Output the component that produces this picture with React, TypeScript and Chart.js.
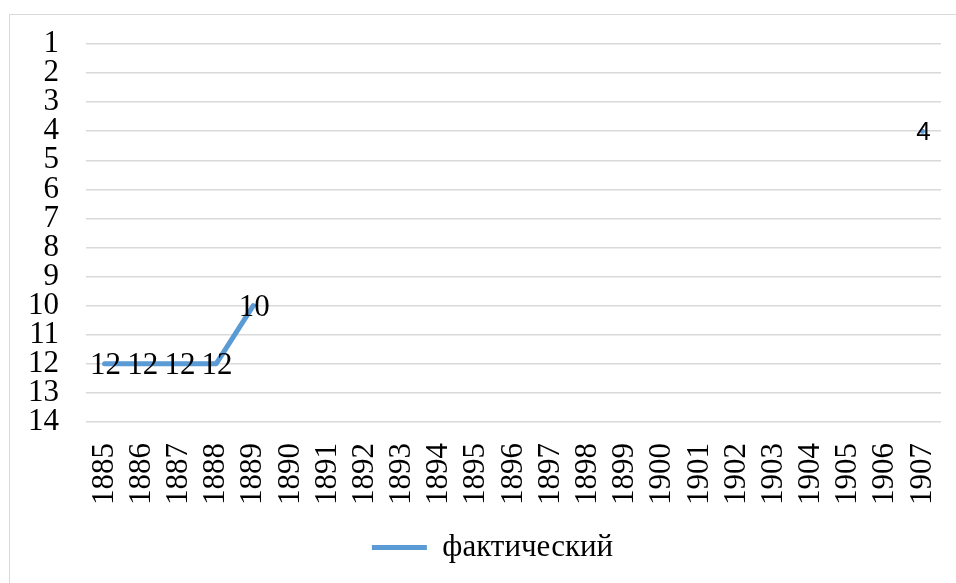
import React, { useEffect, useRef } from "react";
import { Chart, registerables } from "chart.js";

Chart.register(...registerables);

const years = [
  "1885", "1886", "1887", "1888", "1889", "1890", "1891", "1892", "1893", "1894", "1895", "1896",
  "1897", "1898", "1899", "1900", "1901", "1902", "1903", "1904", "1905", "1906", "1907",
];
const actual: (number | null)[] = [
  12, 12, 12, 12, 10, null, null, null, null, null, null, null,
  null, null, null, null, null, null, null, null, null, null, 4,
];
const seriesName = "фактический";
const yMin = 1;
const yMax = 14;
// the label of the last point is drawn in a sans font in the reference
const sansLabelIndex = [22];

const SERIF = "'Liberation Serif', 'Times New Roman', serif";
const SANS = "'Liberation Sans', Arial, sans-serif";
const FS = 31;

const framePlugin = {
  id: "frame",
  beforeDraw(chart: any) {
    const ctx = chart.ctx;
    ctx.save();
    ctx.fillStyle = "#ffffff";
    ctx.fillRect(0, 0, chart.width, chart.height);
    ctx.strokeStyle = "#d9d9d9";
    ctx.lineWidth = 1;
    ctx.strokeRect(9.5, 14.5, 1200, 1200);
    ctx.restore();
  },
  afterLayout(chart: any) {
    const lg = chart.legend;
    if (lg) {
      lg.left += 17;
      lg.right += 17;
    }
  },
};

const labelPlugin = {
  id: "valueLabels",
  afterDatasetsDraw(chart: any) {
    const ctx = chart.ctx;
    chart.data.datasets.forEach((ds: any, di: number) => {
      const meta = chart.getDatasetMeta(di);
      meta.data.forEach((pt: any, i: number) => {
        const v = ds.data[i];
        if (v === null || v === undefined) return;
        ctx.save();
        const sans = sansLabelIndex.includes(i);
        ctx.font = sans ? `26px ${SANS}` : `${FS}px ${SERIF}`;
        ctx.fillStyle = "#000000";
        ctx.textAlign = "center";
        ctx.textBaseline = "middle";
        ctx.fillText(String(v), pt.x + 1, pt.y + 2);
        ctx.restore();
      });
    });
  },
};

export default function App() {
  const ref = useRef<HTMLCanvasElement | null>(null);
  useEffect(() => {
    if (!ref.current) return;
    const chart = new Chart(ref.current, {
      type: "line",
      data: {
        labels: years,
        datasets: [
          {
            label: seriesName,
            data: actual,
            borderColor: "#5b9bd5",
            backgroundColor: "#5b9bd5",
            borderWidth: 5,
            borderCapStyle: "round",
            borderJoinStyle: "round",
            pointRadius: 0,
            pointHoverRadius: 0,
            spanGaps: false,
            tension: 0,
          },
        ],
      },
      options: {
        responsive: false,
        animation: false,
        layout: { padding: { left: 10, right: 15, top: 44, bottom: 10 } },
        plugins: {
          tooltip: { enabled: false },
          legend: {
            position: "bottom",
            labels: {
              usePointStyle: true,
              pointStyle: "line",
              pointStyleWidth: 55,
              padding: 10,
              color: "#000000",
              font: { family: SERIF, size: FS },
            },
          },
        },
        scales: {
          x: {
            type: "category",
            offset: true,
            grid: { display: false, drawTicks: false },
            border: { display: false },
            ticks: {
              autoSkip: false,
              minRotation: 90,
              maxRotation: 90,
              padding: 21,
              color: "#000000",
              font: { family: SERIF, size: FS },
            },
            afterFit(scale: any) {
              scale.height = 100;
              scale.paddingLeft = 0;
              scale.paddingRight = 0;
            },
          },
          y: {
            reverse: true,
            min: yMin,
            max: yMax,
            grid: { color: "#d9d9d9", lineWidth: 1.5, drawTicks: false },
            border: { display: false },
            ticks: {
              stepSize: 1,
              autoSkip: false,
              padding: 27,
              color: "#000000",
              font: { family: SERIF, size: FS },
            },
            afterFit(scale: any) {
              scale.width = 76;
              scale.paddingTop = 0;
              scale.paddingBottom = 0;
            },
          },
        },
      },
      plugins: [framePlugin, labelPlugin],
    });
    return () => chart.destroy();
  }, []);
  return (
    <div style={{ position: "absolute", left: 0, top: 0, width: 956, height: 583 }}>
      <canvas ref={ref} width={956} height={583} style={{ width: 956, height: 583 }} />
    </div>
  );
}
